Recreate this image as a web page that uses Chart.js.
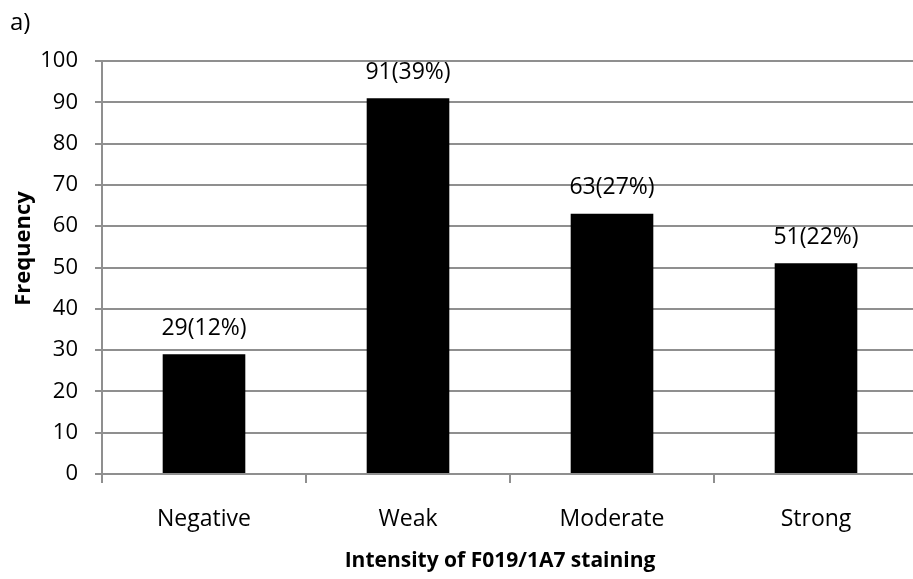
<!DOCTYPE html>
<html>
<head>
<meta charset="utf-8">
<script src="https://cdn.jsdelivr.net/npm/chart.js@4/dist/chart.umd.min.js"></script>
<style>
  html, body { margin: 0; padding: 0; background: #fff; overflow: hidden; }
  #wrap { position: relative; width: 913px; height: 579px; overflow: hidden; }
  #panel { position: absolute; left: 10px; top: 8px; font-family: "Open Sans", sans-serif; font-size: 24px; line-height: 26px; color: #000; }
  canvas { position: absolute; left: 0; top: 0; }
</style>
</head>
<body>
<div id="wrap">
  <canvas id="c" width="930" height="579"></canvas>
  <div id="panel">a)</div>
</div>
<script>
const categories = ["Negative", "Weak", "Moderate", "Strong"];
const frequency = [29, 91, 63, 51];
const barLabels = ["29(12%)", "91(39%)", "63(27%)", "51(22%)"];
const yTicks = [0, 10, 20, 30, 40, 50, 60, 70, 80, 90, 100];
const xTitle = "Intensity of F019/1A7 staining";
const yTitle = "Frequency";

const FONT = "'Open Sans', sans-serif";
const GRID = "#8f8f8f";

const labelPlugin = {
  id: "barLabels",
  afterDatasetsDraw(chart) {
    const ctx = chart.ctx;
    const meta = chart.getDatasetMeta(0);
    ctx.save();
    ctx.font = "23px " + FONT;
    ctx.fillStyle = "#000";
    ctx.textAlign = "center";
    ctx.textBaseline = "middle";
    meta.data.forEach((bar, i) => {
      ctx.fillText(barLabels[i], bar.x, bar.y - 26);
    });
    ctx.restore();
  }
};

const titlePlugin = {
  id: "axisTitles",
  afterDraw(chart) {
    const ctx = chart.ctx;
    const area = chart.chartArea;
    ctx.save();
    ctx.fillStyle = "#000";
    ctx.textAlign = "center";
    ctx.textBaseline = "middle";
    ctx.font = "bold 21px " + FONT;
    ctx.fillText(xTitle, (area.left + area.right) / 2 - 10, 561);
    ctx.translate(24, (area.top + area.bottom) / 2 - 19);
    ctx.rotate(-Math.PI / 2);
    ctx.font = "bold 22px " + FONT;
    ctx.fillText(yTitle, 0, 0);
    ctx.restore();
  }
};

new Chart(document.getElementById("c"), {
  type: "bar",
  data: {
    labels: categories,
    datasets: [{
      data: frequency,
      backgroundColor: "#000",
      borderWidth: 0,
      categoryPercentage: 1,
      barPercentage: 0.405
    }]
  },
  options: {
    responsive: false,
    animation: false,
    devicePixelRatio: 1,
    layout: { padding: { left: 0, top: 61, right: 12, bottom: 0 } },
    plugins: { legend: { display: false }, tooltip: { enabled: false } },
    scales: {
      x: {
        offset: true,
        grid: { offset: true, drawOnChartArea: false, drawTicks: true, tickLength: 9, color: GRID, lineWidth: 2 },
        border: { display: true, color: GRID, width: 2 },
        ticks: { color: "#000", font: { family: FONT, size: 23 }, padding: 23, maxRotation: 0 },
        afterFit(s) { s.height = 105; }
      },
      y: {
        min: 0, max: 100,
        afterBuildTicks(s) { s.ticks = yTicks.map(v => ({ value: v })); },
        grid: { color: GRID, lineWidth: 2, tickLength: 7, drawTicks: true },
        border: { display: true, color: GRID, width: 2 },
        ticks: { color: "#000", font: { family: FONT, size: 22 }, padding: 17 },
        afterFit(s) { s.width = 102; }
      }
    }
  },
  plugins: [labelPlugin, titlePlugin]
});
</script>
</body>
</html>
